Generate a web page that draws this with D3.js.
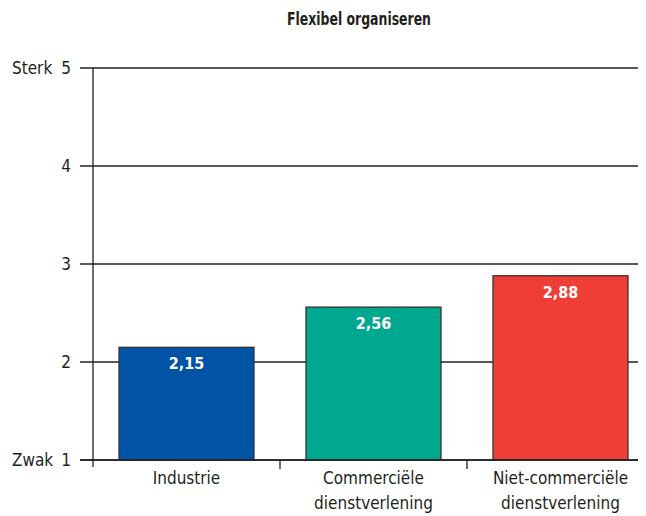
<!DOCTYPE html>
<html>
<head>
<meta charset="utf-8">
<script src="https://cdn.jsdelivr.net/npm/d3@7"></script>
<style>
  html, body { margin: 0; padding: 0; background: #fff; }
  svg { display: block; font-family: "Liberation Sans Narrow", "DejaVu Sans Condensed", "Arial Narrow", sans-serif; }
</style>
</head>
<body>
<svg id="chart" width="646" height="516"></svg>
<script>
// Chart data
const title = "Flexibel organiseren";
const categories = [["Industrie"], ["Commerciële", "dienstverlening"], ["Niet-commerciële", "dienstverlening"]];
const values = [2.15, 2.56, 2.88];
const colors = ["#0153a5", "#00a88f", "#ee3e35"];
const yTicks = [1, 2, 3, 4, 5];
const yEndLabels = { 1: "Zwak", 5: "Sterk" };

const svg = d3.select("#chart");
const ink = "#231f20";
const fmt = v => d3.format(".2f")(v).replace(".", ",");

const plotLeft = 93, plotRight = 638, plotTop = 68, plotBottom = 460;
const bandStep = 187;

const y = d3.scaleLinear().domain([1, 5]).range([plotBottom, plotTop]);
const x = d3.scaleBand().domain(d3.range(categories.length))
  .range([plotLeft, plotLeft + bandStep * categories.length])
  .paddingInner(52 / bandStep).paddingOuter(26 / bandStep);

// Title
svg.append("text")
  .attr("x", 359).attr("y", 25)
  .attr("text-anchor", "middle")
  .attr("font-weight", "bold").attr("font-size", 18).attr("fill", ink)
  .attr("textLength", 144).attr("lengthAdjust", "spacingAndGlyphs")
  .text(title);

// Horizontal gridlines with left ticks
svg.append("g").selectAll("line").data(yTicks).join("line")
  .attr("x1", 80).attr("x2", plotRight)
  .attr("y1", d => y(d)).attr("y2", d => y(d))
  .attr("stroke", ink).attr("stroke-width", 1.3);

// Y tick labels
svg.append("g").selectAll("text").data(yTicks).join("text")
  .attr("x", 71).attr("y", d => y(d) + 6)
  .attr("text-anchor", "end").attr("font-size", 17).attr("fill", ink)
  .text(d => d);

svg.append("g").selectAll("text").data(yTicks.filter(d => yEndLabels[d])).join("text")
  .attr("x", 12).attr("y", d => y(d) + 6)
  .attr("font-size", 17).attr("fill", ink)
  .text(d => yEndLabels[d]);

// Y axis line
svg.append("line")
  .attr("x1", plotLeft).attr("x2", plotLeft).attr("y1", plotTop).attr("y2", plotBottom + 7)
  .attr("stroke", ink).attr("stroke-width", 1.3);

// Bars
svg.append("g").selectAll("rect").data(values).join("rect")
  .attr("x", (d, i) => x(i))
  .attr("width", x.bandwidth())
  .attr("y", d => y(d))
  .attr("height", d => plotBottom - y(d))
  .attr("fill", (d, i) => colors[i])
  .attr("stroke", "#333").attr("stroke-width", 1.3);

// Value labels
svg.append("g").selectAll("text").data(values).join("text")
  .attr("x", (d, i) => x(i) + x.bandwidth() / 2)
  .attr("y", d => y(d) + 22)
  .attr("text-anchor", "middle")
  .attr("font-weight", "bold").attr("font-size", 16).attr("fill", "#fff")
  .text(fmt);

// Baseline and category separators
svg.append("line")
  .attr("x1", 80).attr("x2", plotRight).attr("y1", plotBottom).attr("y2", plotBottom)
  .attr("stroke", ink).attr("stroke-width", 1.3);

svg.append("g").selectAll("line").data(d3.range(1, categories.length)).join("line")
  .attr("x1", i => plotLeft + bandStep * i).attr("x2", i => plotLeft + bandStep * i)
  .attr("y1", plotBottom).attr("y2", plotBottom + 9)
  .attr("stroke", ink).attr("stroke-width", 1.3);

// Category labels
const cat = svg.append("g").selectAll("text").data(categories).join("text")
  .attr("x", (d, i) => x(i) + x.bandwidth() / 2)
  .attr("y", 484)
  .attr("text-anchor", "middle").attr("font-size", 17).attr("fill", ink);
cat.selectAll("tspan").data(d => d).join("tspan")
  .attr("x", function () { return this.parentNode.getAttribute("x"); })
  .attr("dy", (d, j) => j === 0 ? 0 : 25)
  .text(d => d);
</script>
</body>
</html>
